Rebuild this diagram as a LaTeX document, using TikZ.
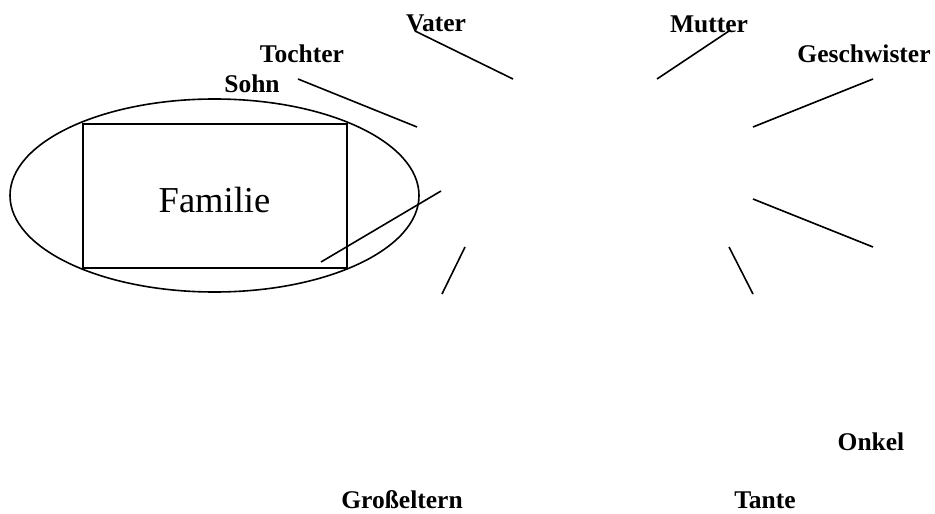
\documentclass[tikz,border=0pt]{standalone}
\usepackage{fontspec}
\setmainfont{Liberation Serif}
\usepackage{tikz}

\begin{document}
\begin{tikzpicture}[x=1pt, y=-1pt, line width=1.6pt,
    word/.style={inner sep=0pt, anchor=base, font=\fontsize{25.5}{28}\selectfont\bfseries},
    title/.style={inner sep=0pt, anchor=base, font=\fontsize{36.5}{40}\selectfont}]
        \useasboundingbox (0,0) rectangle (935,514);
        % Familie in der Mitte
        \draw (214.5,195.5) ellipse [x radius=204.5, y radius=96.5];
        \draw (83,124) rectangle (347,268);
        \node[title] (familie) at (214.5,212) {Familie};
        % Begriffe
        \foreach \name/\txt/\x/\y in {vater/Vater/436/31, tochter/Tochter/302/62, sohn/Sohn/252/92,
                mutter/Mutter/709/32, geschwister/Geschwister/864/62, onkel/Onkel/871/450,
                tante/Tante/765/508, grosseltern/Großeltern/402/508} {
            \node[word] (\name) at (\x,\y) {\txt};
        }
        % Striche
        \foreach \i/\ax/\ay/\bx/\by in {1/415/31/513/79, 2/298/79/417/127, 3/321/262/441/191,
                4/465/247/442/294, 5/729/31/657/79, 6/873/79/753/127,
                7/753/199/873/247, 8/729/247/753/294} {
            \coordinate (S\i-a) at (\ax,\ay);
            \coordinate (S\i-b) at (\bx,\by);
            \draw (S\i-a) -- (S\i-b);
        }
    \end{tikzpicture}
\end{document}
